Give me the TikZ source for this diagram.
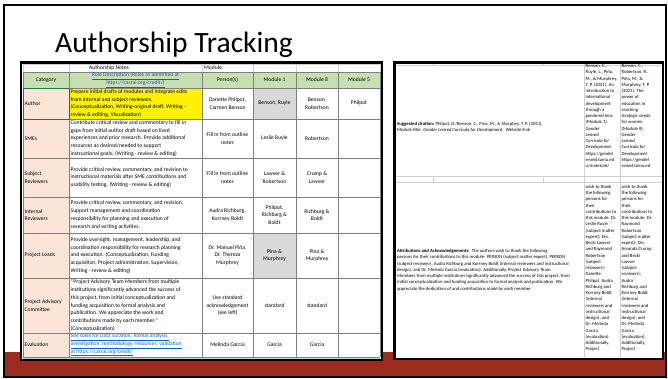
\documentclass[tikz,border=0pt]{standalone}
\usepackage{fontspec}
\setmainfont{Carlito}
\definecolor{bandred}{HTML}{9A2B1E}
\definecolor{hdrgreen}{HTML}{C6E0B4}
\definecolor{peach}{HTML}{FCE4D6}
\definecolor{cellgray}{HTML}{D9D9D9}
\definecolor{linkblue}{HTML}{0563C1}
\definecolor{gridgray}{HTML}{7F7F7F}
\definecolor{lightgrid}{HTML}{D0D0D0}
\definecolor{selgreen}{HTML}{217346}
\tikzset{
  ctext/.style={inner sep=0pt, font=\fontsize{5.6}{7.7}\selectfont, align=center},
  ltext/.style={inner sep=0pt, font=\fontsize{5.6}{7.7}\selectfont, align=left, anchor=west},
  rtext/.style={inner sep=0pt, font=\fontsize{4.7}{6.25}\selectfont, align=left, anchor=north west},
  gridline/.style={draw=gridgray, line width=0.5pt},
  lightline/.style={draw=lightgrid, line width=0.5pt},
  tableframe/.style={draw=black, line width=2.2pt},
}
\newcommand{\lk}[1]{\textcolor{linkblue}{\underline{#1}}}
\begin{document}
\begin{tikzpicture}[x=1pt,y=-1pt]
\useasboundingbox (0,0) rectangle (668,379);
% slide background
\fill[white] (0,0) rectangle (668,379);
\fill[bandred] (4,352) rectangle (666,377);
\draw[line width=2.2pt] (4,5) rectangle (666,377);
% title
\node[inner sep=0pt, font=\fontsize{29.5}{30}\selectfont, anchor=base] (title) at (174,53) {Authorship Tracking};

% ---------------- left table ----------------
\fill[white] (20,62) rectangle (383,360);
\fill[hdrgreen] (23,72) rectangle (380,88);
\fill[peach] (23,88) rectangle (69,357);
\fill[yellow] (69,88) rectangle (202,119);
\fill[cellgray] (253,88) rectangle (296,119);
\fill[cellgray] (253,233) rectangle (296,278);
% top light row
\foreach \xx in {23,69,202,253,296,338,380} \draw[lightline] (\xx,63) -- (\xx,72);
\draw[lightline] (23,64) -- (380,64);
\draw[lightline] (23,358.5) -- (380,358.5);
% grid
\foreach \yy in {72,88,119,158,197,233,278,333,357} \draw[gridline] (23,\yy) -- (380,\yy);
\foreach \xx in {23,69,202,253,296,338,380} \draw[gridline] (\xx,72) -- (\xx,357);
\draw[selgreen, line width=0.9pt] (23.5,88.5) rectangle (69,119);
\draw[tableframe] (21,62.5) rectangle (382,360);

% header rows
\node[ctext] (notes) at (109,68) {Authorship Notes};
\node[ltext] (module) at (204,68) {Module:};
\node[ctext] (hcat) at (46,80) {Category};
\node[ctext] (hrole) at (135.5,80) {\lk{Role Description (Roles as identified at}\\\lk{https://casrai.org/credit/)}};
\node[ctext] (hpers) at (227.5,80) {Person(s)};
\node[ctext] (hm1) at (274.5,80) {Module 1};
\node[ctext] (hm8) at (317,80) {Module 8};
\node[ctext] (hm5) at (359,80) {Module 5};

% Author
\node[ltext] (cauth) at (24.5,103.5) {Author};
\node[ltext] (rauth) at (70.5,103.5) {Prepare initial drafts of modules and integrate edits\\from internal and subject reviewers.\\(Conceptualization, Writing-original draft, Writing -\\review \& editing, Visualization)};
\node[ctext] (pauth) at (227.5,103.5) {Danette Philpot,\\Carmen Benson};
\node[ctext] (m1auth) at (274.5,103.5) {Benson, Ruyle};
\node[ctext] (m8auth) at (317,103.5) {Benson,\\Robertson};
\node[ctext] (m5auth) at (359,103.5) {Philpot};

% SMEs
\node[ltext] (csme) at (24.5,138.5) {SMEs};
\node[ltext] (rsme) at (70.5,138.5) {Contribute critical review and commentary to fill in\\gaps from initial author draft based on lived\\experiences and prior research. Provide additional\\resources as desired/needed to support\\instructional goals. (Writing - review \& editing)};
\node[ctext] (psme) at (227.5,138.5) {Fill in from outline\\notes};
\node[ctext] (m1sme) at (274.5,138.5) {Leslie Ruyle};
\node[ctext] (m8sme) at (317,138.5) {Robertson};

% Subject reviewers
\node[ltext] (csub) at (24.5,177.5) {Subject\\Reviewers};
\node[ltext] (rsub) at (70.5,177.5) {Provide critical review, commentary, and revision to\\instructional materials after SME contributions and\\usability testing. (Writing - review \& editing)};
\node[ctext] (psub) at (227.5,177.5) {Fill in from outline\\notes};
\node[ctext] (m1sub) at (274.5,177.5) {Lawver \&\\Robertson};
\node[ctext] (m8sub) at (317,177.5) {Crump \&\\Lawver};

% Internal reviewers
\node[ltext] (cint) at (24.5,215) {Internal\\Reviewers};
\node[ltext] (rint) at (70.5,215) {Provide critical review, commentary, and revision.\\Support management and coordination\\responsibility for planning and execution of\\research and writing activities.};
\node[ctext] (pint) at (227.5,215) {Audra Richburg,\\Korrney Boldt};
\node[ctext] (m1int) at (274.5,215) {Philpot,\\Richburg \&\\Boldt};
\node[ctext] (m8int) at (317,215) {Richburg \&\\Boldt};

% Project leads
\node[ltext] (clead) at (24.5,255.5) {Project Leads};
\node[ltext] (rlead) at (70.5,255.5) {Provide oversight, management, leadership, and\\coordination responsibility for research planning\\and execution. (Conceptualization, Funding\\acquisition, Project administration, Supervision,\\Writing - review \& editing)};
\node[ctext] (plead) at (227.5,255.5) {Dr. Manuel Piña,\\Dr. Thereza\\Murphrey};
\node[ctext] (m1lead) at (274.5,255.5) {Pina \&\\Murphrey};
\node[ctext] (m8lead) at (317,255.5) {Pina \&\\Murphrey};

% Project advisory committee
\node[ltext] (cpac) at (24.5,305.5) {Project Advisory\\Committee};
\node[ltext] (rpac) at (70.5,305.5) {*Project Advisory Team Members from multiple\\institutions significantly advanced the success of\\this project, from initial conceptualization and\\funding acquisition to formal analysis and\\publication. We appreciate the work and\\contributions made by each member.*\\(Conceptualization)};
\node[ctext] (ppac) at (227.5,305.5) {Use standard\\acknowledgement\\(see left)};
\node[ctext] (m1pac) at (274.5,305.5) {standard};
\node[ctext] (m8pac) at (317,305.5) {standard};

% Evaluation
\node[ltext] (ceval) at (24.5,345) {Evaluation};
\node[ltext] (reval) at (70.5,345) {\lk{See roles for Data curation, formal analysis,}\\\lk{investigation, methodology, resources, validation}\\\lk{at https://casrai.org/credit/}};
\node[ctext] (peval) at (227.5,345) {Melinda Garcia};
\node[ctext] (m1eval) at (274.5,345) {Garcia};
\node[ctext] (m8eval) at (317,345) {Garcia};

% ---------------- right table ----------------
\fill[white] (394,62) rectangle (663,359);
\foreach \yy in {65,176,182} \draw[lightline] (395,\yy) -- (662,\yy);
\foreach \xx in {433,543} {\draw[lightline] (\xx,63) -- (\xx,65); \draw[lightline] (\xx,176) -- (\xx,182);}
\foreach \xx in {584,620} \draw[lightline] (\xx,63) -- (\xx,358);
\begin{scope}
\clip (395,63) rectangle (662,358);
\node[rtext] (citA) at (585.5,64.5) {Benson, C.,\\Ruyle, L., Piña,\\M., \& Murphrey,\\T. P. (2021). An\\introduction to\\international\\development\\through a\\gendered lens\\(Module 1).\\\textit{Gender}\\\textit{Lensed}\\\textit{Curricula for}\\\textit{Development.}\\https://gendel\\ensed.tamu.ed\\u/materials/};
\node[rtext] (citB) at (621.5,64.5) {Benson, C.,\\Robertson, R.,\\Piña, M., \&\\Murphrey, T. P.\\(2021). The\\power of\\education in\\reaching\\strategic needs\\for women\\(Module 8).\\\textit{Gender}\\\textit{Lensed}\\\textit{Curricula for}\\\textit{Development.}\\https://gendel\\ensed.tamu.ed};
\node[rtext] (ackA) at (585.5,185) {wish to thank\\the following\\persons for\\their\\contributions to\\this module: Dr.\\Leslie Ruyle\\(subject matter\\expert); Drs.\\Becki Lawver\\and Raymond\\Robertson\\(subject\\reviewer);\\Danette\\Philpot, Audra\\Richburg and\\Korrney Boldt\\(internal\\reviewers and\\instructional\\design); and\\Dr. Melinda\\Garcia\\(evaluation).\\Additionally,\\Project};
\node[rtext] (ackB) at (621.5,185) {wish to thank\\the following\\persons for\\their\\contributions to\\this module: Dr.\\Raymond\\Robertson\\(subject matter\\expert); Drs.\\Amanda Crump\\and Becki\\Lawver\\(subject\\reviewer);\\Audra\\Richburg and\\Korrney Boldt\\(internal\\reviewers and\\instructional\\design); and\\Dr. Melinda\\Garcia\\(evaluation).\\Additionally,\\Project};
\end{scope}
\node[rtext] (cite) at (397,122) {\textbf{Suggested citation:} Philpot, D./Benson, C., Pina, M., \& Murphey, T. P. (2021).\\Module title. \textit{Gender Lensed Curricula for Development} . Website/link};
\node[rtext] (attr) at (397,249) {\textbf{Attributions and Acknowledgements:}\ \ The authors wish to thank the following\\persons for their contributions to this module: PERSON (subject matter expert), PERSON\\(subject reviewer), Audra Richburg and Korrney Boldt (internal reviewers and instructional\\design), and Dr. Melinda Garcia (evaluation). Additionally, Project Advisory Team\\Members from multiple institutions significantly advanced the success of this project, from\\initial conceptualization and funding acquisition to formal analysis and publication. We\\appreciate the dedication of and contributions made by each member.};
\draw[tableframe] (394.5,62.5) rectangle (663,359);
\end{tikzpicture}
\end{document}
